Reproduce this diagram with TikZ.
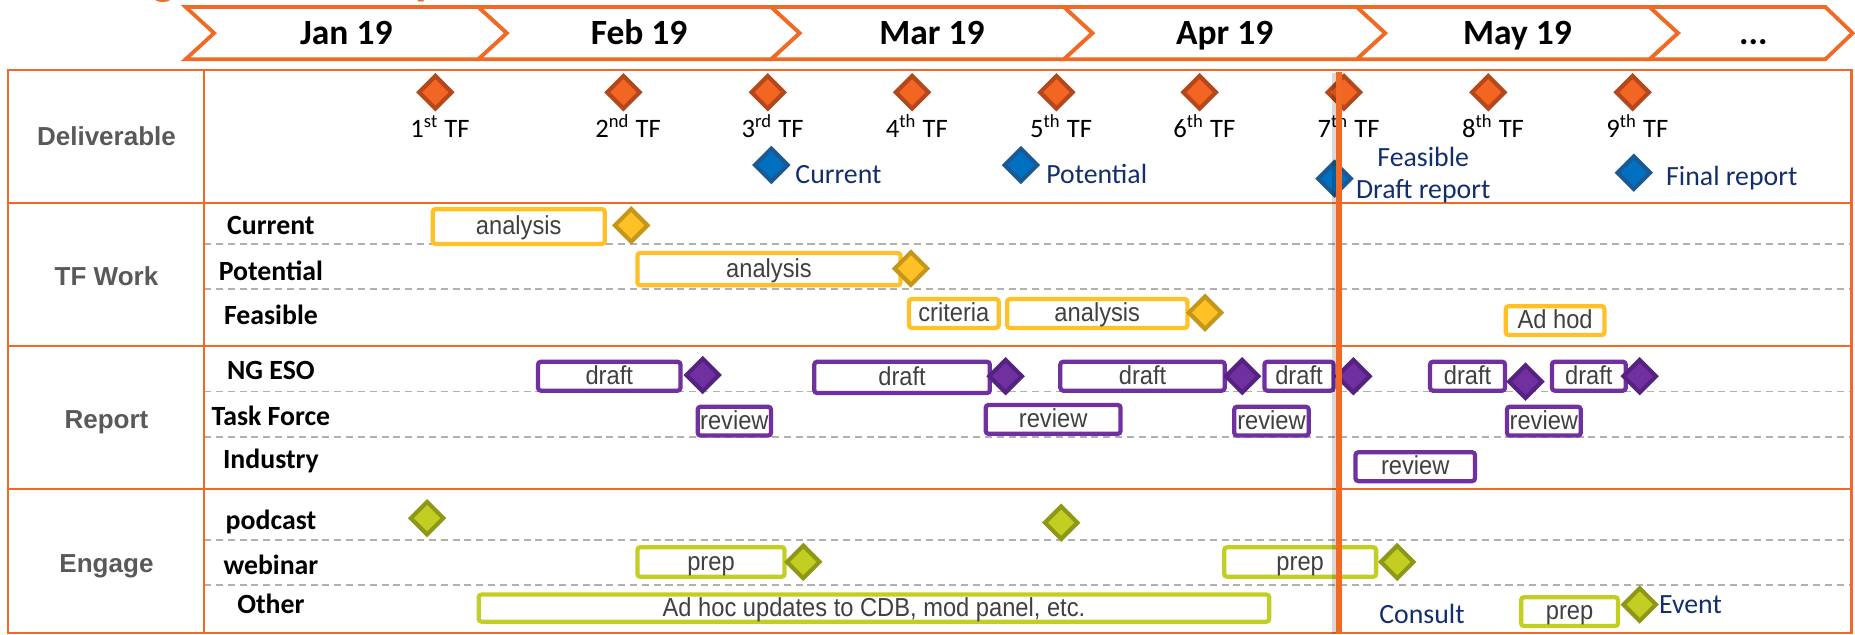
\documentclass[tikz,border=0pt]{standalone}
\usepackage{fontspec}
\setmainfont{Carlito}
\newfontfamily\arialfont{Liberation Sans}
\newfontfamily\barfont[FakeStretch=0.91]{Liberation Sans}
\usepackage{tikz}
\usetikzlibrary{shapes.geometric}
\usetikzlibrary{positioning}

\definecolor{tforange}{HTML}{F06A26}
\definecolor{msorange}{HTML}{F26522}
\definecolor{msorangedark}{HTML}{B5471B}
\definecolor{goldfill}{HTML}{FFC125}
\definecolor{golddark}{HTML}{C4961A}
\definecolor{purplefill}{HTML}{7030A0}
\definecolor{purpledark}{HTML}{552282}
\definecolor{limefill}{HTML}{C3CE22}
\definecolor{limedark}{HTML}{8E9816}
\definecolor{bluefill}{HTML}{0070C0}
\definecolor{bluedark}{HTML}{1A5A94}
\definecolor{navytext}{HTML}{122E6E}
\definecolor{sectiongray}{HTML}{595959}
\definecolor{bartext}{HTML}{404040}
\definecolor{dashgray}{HTML}{B0B0B0}

% name, colour, x from, x to, y centre, height, text
\newcommand{\taskbar}[7]{%
  \node[taskbox, draw=#2, minimum width={(#4-#3)*0.5pt-1.8pt},
        minimum height={(#6)*0.5pt-1.8pt}] (#1) at ({(#3+#4)/2},#5) {#7};}

\begin{document}
\begin{tikzpicture}
    [x=0.5pt, y=-0.5pt,
     chevron/.style={draw=tforange, line width=1.6pt, fill=white},
     grid/.style={draw=tforange, line width=0.9pt},
     subline/.style={draw=dashgray, line width=0.75pt, dash pattern=on 3pt off 2pt},
     month/.style={font=\bfseries\fontsize{15}{18}\selectfont, anchor=base, inner sep=0pt},
     section/.style={font=\arialfont\bfseries\fontsize{11}{13}\selectfont, text=sectiongray, anchor=base, inner sep=0pt},
     rowlabel/.style={font=\bfseries\fontsize{11.75}{14}\selectfont, anchor=base, inner sep=0pt},
     tflabel/.style={font=\fontsize{11.25}{13}\selectfont, anchor=base, inner sep=0pt},
     note/.style={font=\fontsize{11.75}{13.3}\selectfont, text=navytext, anchor=base, align=center, inner sep=0pt},
     titlefrag/.style={font=\bfseries\fontsize{20}{24}\selectfont, text=tforange, anchor=base, inner sep=0pt},
     milestone/.style={diamond, minimum size=14.5pt, inner sep=0pt, line width=1.75pt},
     tfms/.style={milestone, fill=msorange, draw=msorangedark},
     bluems/.style={milestone, fill=bluefill, draw=bluedark},
     goldms/.style={milestone, fill=goldfill, draw=golddark},
     purplems/.style={milestone, fill=purplefill, draw=purpledark},
     limems/.style={milestone, fill=limefill, draw=limedark},
     taskbox/.style={rectangle, rounded corners=1.2pt, line width=1.8pt, fill=white, inner sep=0pt,
       font=\barfont\fontsize{11}{13}\selectfont, text=bartext, text height=9pt, text depth=2pt}]
    \useasboundingbox (0,0) rectangle (1568,536);

    % cut-off title
    \node[titlefrag] (titleg) at (138,-5) {g};
    \node[titlefrag, anchor=base west] (titlep) at (351,-5) {p};

    % months
    \foreach \m [count=\i from 0] in {Jan 19,Feb 19,Mar 19,Apr 19,May 19} {
      \pgfmathsetmacro\xa{157+247.5*\i}
      \draw[chevron] (\xa,6) -- ++(247.5,0) -- ++(24,22) -- ++(-24,22)
        -- ++(-247.5,0) -- ++(24,-22) -- cycle;
      \node[month] (month\i) at (\xa+135.75,38) {\m};
    }
    \draw[chevron] (1394.5,6) -- (1543,6) -- (1566,28) -- (1543,50)
      -- (1394.5,50) -- (1418.5,28) -- cycle;
    \node[month] (monthmore) at (1482,38) {...};

    % table
    \foreach \y in {206.5,244.6,331,369.5,456.5,494.5}
      \draw[subline] (172.5,\y) -- (1565,\y);
    \draw[grid] (7,59.5) rectangle (1565,535);
    \draw[grid] (172.5,59.5) -- (172.5,535);
    \foreach \y in {171.5,292.5,413}
      \draw[grid] (7,\y) -- (1565,\y);

    \node[section] (deliverable) at (90,123.4) {Deliverable};
    \node[section] (tfwork) at (90,241) {TF Work};
    \node[section] (report) at (90,362) {Report};
    \node[section] (engage) at (90,484) {Engage};

    \foreach \lbl/\base [count=\i] in {Current/198.6,Potential/236.7,Feasible/274.7,
        NG ESO/320.6,Task Force/359.3,Industry/396,podcast/447.5,webinar/486,Other/518.5}
      \node[rowlabel] (row\i) at (229,\base) {\lbl};

    % deliverables
    \foreach \x/\n/\s [count=\i] in {368/1/st,527/2/nd,649/3/rd,771/4/th,893/5/th,
        1014/6/th,1136/7/th,1258/8/th,1380/9/th} {
      \node[tfms] (tf\i) at (\x,78) {};
      \node[tflabel] (tfname\i) at ({\x+4},116) {\n\textsuperscript{\s} TF};
    }
    \node[bluems] (curms) at (652,139.5) {};
    \node[note, anchor=base west] (curnote) at (672,155) {Current};
    \node[bluems] (potms) at (863,139.5) {};
    \node[note, anchor=base west] (potnote) at (884,155) {Potential};
    \node[bluems] (feasms) at (1128,151) {};
    \node[note] (feasnote) at (1203,167.7) {Feasible\\Draft report};
    \node[bluems] (finalms) at (1381,146) {};
    \node[note, anchor=base west] (finalnote) at (1408,156.4) {Final report};

    % TF work
    \taskbar{curwork}{goldfill}{364}{513}{191.5}{33}{analysis}
    \node[goldms] (curdone) at (533.5,190.5) {};
    \taskbar{potwork}{goldfill}{537}{763}{227.5}{31}{analysis}
    \node[goldms] (potdone) at (770,227) {};
    \taskbar{feascrit}{goldfill}{766.5}{846}{265}{28}{criteria}
    \taskbar{feaswork}{goldfill}{849.5}{1005.5}{265}{28}{analysis}
    \node[goldms] (feasdone) at (1018.6,264.3) {};
    \taskbar{adhod}{goldfill}{1271}{1358}{271}{28}{Ad hod}

    % report
    \taskbar{draftA}{purplefill}{453}{577}{318}{28}{draft}
    \node[purplems] (draftAdone) at (594,317) {};
    \taskbar{draftB}{purplefill}{686.5}{838.5}{319}{30}{draft}
    \node[purplems] (draftBdone) at (850,318) {};
    \taskbar{draftC}{purplefill}{894.5}{1037}{318}{28}{draft}
    \node[purplems] (draftCdone) at (1050,318) {};
    \taskbar{draftD}{purplefill}{1067}{1129}{318}{28}{draft}
    \node[purplems] (draftDdone) at (1144,318) {};
    \taskbar{draftE}{purplefill}{1207}{1274}{318}{28}{draft}
    \node[purplems] (draftEdone) at (1289.5,322.6) {};
    \taskbar{draftF}{purplefill}{1310}{1376}{318}{28}{draft}
    \node[purplems] (draftFdone) at (1386,318) {};
    \taskbar{reviewA}{purplefill}{588}{653.5}{356}{28}{review}
    \taskbar{reviewB}{purplefill}{831.4}{949}{354.5}{28}{review}
    \taskbar{reviewC}{purplefill}{1041.5}{1108}{356}{28}{review}
    \taskbar{reviewD}{purplefill}{1272}{1338}{356}{28}{review}
    \taskbar{reviewE}{purplefill}{1144}{1248.6}{394.5}{28}{review}

    % engage
    \node[limems] (podcastA) at (361,438) {};
    \node[limems] (podcastB) at (897,441.8) {};
    \taskbar{prepA}{limefill}{537}{665}{475}{28.5}{prep}
    \node[limems] (prepAdone) at (679,475) {};
    \taskbar{prepB}{limefill}{1033}{1165}{475}{28.5}{prep}
    \node[limems] (prepBdone) at (1181,475) {};
    \taskbar{adhoc}{limefill}{402.8}{1074.7}{514}{26.5}{Ad hoc updates to CDB, mod panel, etc.}
    \node[note] (consult) at (1202,527) {Consult};
    \taskbar{prepC}{limefill}{1284}{1369.5}{517}{28}{prep}
    \node[limems] (event) at (1386,511) {};
    \node[note, anchor=base west] (eventnote) at (1402,518.5) {Event};

    % today
    \draw[line width=2.5pt, black, opacity=0.15] (1128.5,62) -- (1128.5,536);
    \draw[line width=2.5pt, tforange] (1132,61) -- (1132,536);
\end{tikzpicture}
\end{document}
